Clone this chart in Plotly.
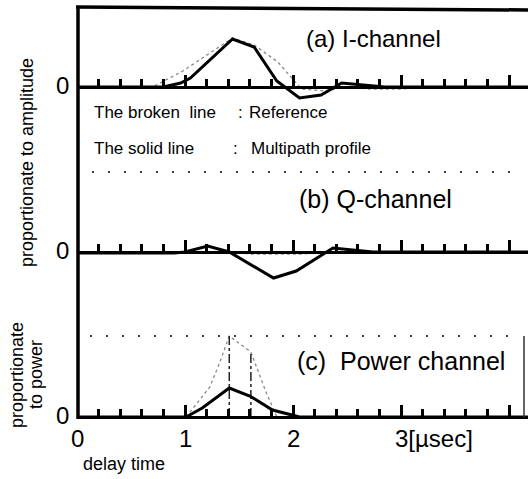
import plotly.graph_objects as go

# ---------------- data ----------------
# (a) I-channel
i_time = [0, 0.8, 0.96, 1.05, 1.44, 1.64, 1.85, 2.06, 2.26, 2.45, 2.65, 2.85, 4.18]
i_solid = [0, 0, 4, 9, 48, 40, 6, -11, -8, 4, 2, 0, 0]
i_ref_time = [0, 0.7, 0.98, 1.2, 1.44, 1.64, 1.86, 1.98, 2.08, 2.3, 2.5, 2.7, 3.0, 3.3, 4.18]
i_ref = [0, 0, 16, 32, 49, 42, 25, 10, -2, -4, 0, -2, -2, 0, 0]

# (b) Q-channel
q_time = [0, 0.9, 1.0, 1.21, 1.41, 1.82, 2.03, 2.37, 2.74, 4.18]
q_solid = [-1, -1, 0, 6, 0, -26, -19, 4, 0, 0]
q_ref_time = [0, 1.45, 1.6, 2.1, 2.3, 4.18]
q_ref = [0, 0, -2, -2, 0, 0]

# (c) Power channel
p_time = [0, 1.01, 1.16, 1.41, 1.6, 1.81, 1.99, 2.06, 4.18]
p_solid = [0, 0, 9, 29, 21, 7, 2, 0, 0]
p_ref_time = [1.01, 1.13, 1.23, 1.32, 1.41, 1.61, 1.75, 1.85]
p_ref = [0, 17, 30, 54, 81, 65, 25, 0]
p_mark_time = [1.41, 1.61]

x_labels = ["0", "1", "2", "3[µsec]"]
x_label_pos = [0, 1, 2, 3]
major_step, minor_step = 1, 0.2

# ---------------- geometry ----------------
W, H = 528, 479
X0 = 77          # pixel of t = 0
PXU = 108        # pixels per microsecond
XMAX = (W - X0) / PXU
PANELS = [("x", "y", 87), ("x2", "y2", 252), ("x3", "y3", 417)]  # zero-line pixel rows


def px(x):
    return (x - X0) / (W - X0)


def py(y):
    return 1 - y / H


FONT = "Arial, Liberation Sans, Helvetica, sans-serif"
fig = go.Figure()

solid = dict(color="black", width=3)
ref = dict(color="#8a8a8a", width=1.3, dash="dot")

fig.add_trace(go.Scatter(x=i_ref_time, y=i_ref, mode="lines", line=ref, xaxis="x", yaxis="y"))
fig.add_trace(go.Scatter(x=i_time, y=i_solid, mode="lines", line=solid, xaxis="x", yaxis="y"))
fig.add_trace(go.Scatter(x=q_ref_time, y=q_ref, mode="lines", line=ref, xaxis="x2", yaxis="y2"))
fig.add_trace(go.Scatter(x=q_time, y=q_solid, mode="lines", line=solid, xaxis="x2", yaxis="y2"))
fig.add_trace(go.Scatter(x=p_ref_time, y=p_ref, mode="lines", line=ref, xaxis="x3", yaxis="y3"))
for t in p_mark_time:
    v = p_ref[p_ref_time.index(t)]
    fig.add_trace(go.Scatter(x=[t, t], y=[0, v], mode="lines",
                             line=dict(color="#222", width=1.5, dash="dashdot"),
                             xaxis="x3", yaxis="y3"))
fig.add_trace(go.Scatter(x=p_time, y=p_solid, mode="lines", line=solid, xaxis="x3", yaxis="y3"))

shapes = []
# frame
shapes.append(dict(type="line", xref="paper", yref="paper", x0=px(78), x1=px(78),
                   y0=py(6), y1=py(419), line=dict(color="black", width=3.5)))
shapes.append(dict(type="line", xref="paper", yref="paper", x0=px(76), x1=px(528),
                   y0=py(7), y1=py(10), line=dict(color="black", width=3.5)))
shapes.append(dict(type="line", xref="paper", yref="paper", x0=px(524), x1=px(524),
                   y0=py(336), y1=py(417), line=dict(color="#333", width=1.5)))
# dotted separators
shapes.append(dict(type="line", xref="paper", yref="paper", x0=px(92), x1=px(518),
                   y0=py(172), y1=py(172), line=dict(color="black", width=1.6, dash="2px,14px")))
shapes.append(dict(type="line", xref="paper", yref="paper", x0=px(90), x1=px(520),
                   y0=py(336), y1=py(336), line=dict(color="black", width=1.6, dash="2px,14px")))

ann = []


def txt(x, y, s, size, xanchor="left", angle=0):
    ann.append(dict(x=px(x), y=py(y), xref="paper", yref="paper", text=s, showarrow=False,
                    xanchor=xanchor, yanchor="middle", textangle=angle,
                    font=dict(family=FONT, size=size, color="black")))


txt(304, 38, "(a) I-channel", 24)
txt(297, 199, "(b) Q-channel", 25)
txt(295, 361, "(c)  Power channel", 25)
txt(92, 112, "The broken  line", 17)
txt(240, 112, ":", 17, "center")
txt(247, 112, "Reference", 17)
txt(92, 149, "The solid line", 17)
txt(235, 149, ":", 17, "center")
txt(249, 149, "Multipath profile", 17)
for _, _, p in PANELS:
    txt(62, p - 2, "0", 24, "center")
txt(27, 163, "proportionate to amplitude", 18, "center", -90)
txt(17, 375, "proportionate", 18, "center", -90)
txt(36, 375, "to power", 18, "center", -90)
txt(124, 464, "delay time", 18, "center")

for pos, lab in zip(x_label_pos, x_labels):
    ann.append(dict(x=pos, y=py(438), xref="x3", yref="paper", text=lab, showarrow=False,
                    xanchor="center" if pos != 3 else "left", xshift=0 if pos != 3 else -8,
                    yanchor="middle", font=dict(family=FONT, size=24, color="black")))

layout = dict(
    width=W, height=H, margin=dict(l=X0, r=0, t=0, b=0),
    paper_bgcolor="white", plot_bgcolor="white", showlegend=False,
    shapes=shapes, annotations=ann,
)
for xa, ya, base in PANELS:
    xname = "xaxis" + xa[1:]
    yname = "yaxis" + ya[1:]
    xd = dict(range=[0, XMAX], domain=[0, 1], anchor="free", position=py(base),
              side="bottom", fixedrange=True, showgrid=False, zeroline=False,
              showline=True, linecolor="black", linewidth=2.5,
              showticklabels=False, ticks="inside", tick0=0, dtick=major_step,
              ticklen=11, tickwidth=2.5, tickcolor="black",
              minor=dict(ticks="inside", dtick=minor_step, tick0=0, ticklen=7,
                         tickwidth=2.5, tickcolor="black", showgrid=False))
    yd = dict(range=[base - H, base], domain=[0, 1], visible=False, fixedrange=True,
              anchor=xa)
    if xa != "x":
        xd["overlaying"] = "x"
        yd["overlaying"] = "y"
    layout[xname] = xd
    layout[yname] = yd
fig.update_layout(**layout)
fig.write_html("out.html", config={"displayModeBar": False},
               post_script="document.body.style.margin='0';document.body.style.overflow='hidden';")
